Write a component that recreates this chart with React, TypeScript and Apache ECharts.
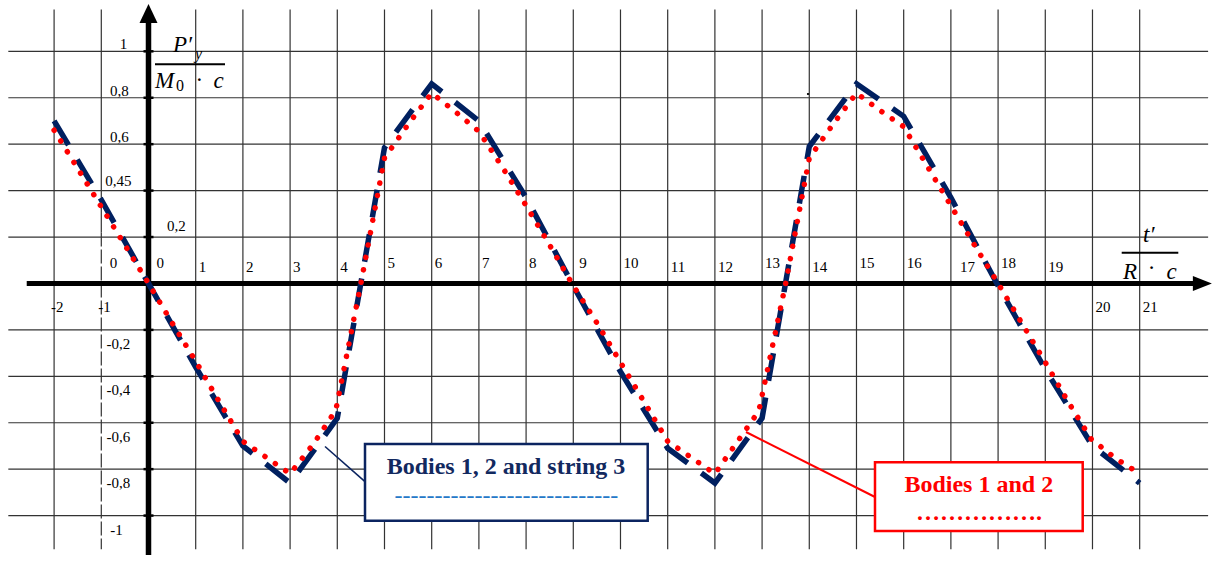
import React, { useEffect, useRef } from "react";
import * as echarts from "echarts";

// ---- data ----
const navyX = [-2, -1, 0, 1, 2, 3, 4, 5, 6, 7, 8, 9, 10, 11, 12, 13, 14, 15, 16, 17, 18, 19, 20, 21];
const navyY = [0.70, 0.36, 0, -0.36, -0.70, -0.86, -0.58, 0.585, 0.86, 0.70, 0.37, -0.01, -0.38, -0.71, -0.86, -0.58, 0.59, 0.86, 0.72, 0.37, -0.01, -0.37, -0.70, -0.86];

const redX = [-2, -1, 0, 0.5, 1, 1.5, 2, 2.5, 3, 3.5, 3.97, 4.5, 5, 5.5, 6, 6.5, 7, 7.5, 8, 8.5, 9, 9.5, 10, 10.5, 11, 11.5, 12, 12.5, 12.93, 13.5, 14, 14.5, 15, 15.5, 16, 16.5, 17, 17.5, 18, 18.5, 19, 19.5, 19.97, 20.5, 20.85];
const redY = [0.66, 0.33, 0, -0.17, -0.335, -0.51, -0.68, -0.75, -0.82, -0.69, -0.545, 0.0, 0.54, 0.685, 0.82, 0.74, 0.655, 0.50, 0.335, 0.165, -0.01, -0.17, -0.34, -0.51, -0.68, -0.75, -0.82, -0.675, -0.55, 0.0, 0.54, 0.685, 0.82, 0.745, 0.675, 0.505, 0.335, 0.165, 0.0, -0.17, -0.34, -0.515, -0.67, -0.755, -0.80];

const xGridValues = [-2, -1, 0, 1, 2, 3, 4, 5, 6, 7, 8, 9, 10, 11, 12, 13, 14, 15, 16, 17, 18, 19, 20, 21];
const yGridValues = [1, 0.8, 0.6, 0.4, 0.2, -0.2, -0.4, -0.6, -0.8, -1];

const xTickValues = [-2, -1, 0, 1, 2, 3, 4, 5, 6, 7, 8, 9, 10, 11, 12, 13, 14, 15, 16, 17, 18, 19, 20, 21];
const xTickLabels = ["-2", "-1", "0", "1", "2", "3", "4", "5", "6", "7", "8", "9", "10", "11", "12", "13", "14", "15", "16", "17", "18", "19", "20", "21"];

const yTickValues = [1, 0.8, 0.6, 0.4, 0.2, 0, -0.2, -0.4, -0.6, -0.8, -1];
const yTickLabels = ["1", "0,8", "0,6", "0,45", "0,2", "0", "-0,2", "-0,4", "-0,6", "-0,8", "-1"];

const seriesNames = ["Bodies 1, 2 and string 3", "Bodies 1 and 2"];

const NAVY = "#0b2460";
const RED = "#ff0000";
const SERIF = '"Liberation Serif", "Times New Roman", serif';

function txt(x: number, y: number, text: string, font: string, fill: string, align: string) {
  return {
    type: "text",
    x,
    y,
    style: {
      text,
      font,
      fill,
      align,
      verticalAlign: "middle",
      textAlign: align,
      textVerticalAlign: "middle",
    },
  };
}

export default function App() {
  const ref = useRef<HTMLDivElement>(null);

  useEffect(() => {
    if (!ref.current) return;
    const chart = echarts.init(ref.current, null, { renderer: "svg" });

    const gridV = {
      type: "custom",
      coordinateSystem: "cartesian2d",
      clip: false,
      silent: true,
      z: 1,
      data: xGridValues.map((v) => [v, 0]),
      renderItem: (params: any, api: any) => {
        const x = api.value(0);
        const p1 = api.coord([x, 1.18]);
        const p2 = api.coord([x, -1.145]);
        if (x === -1) {
          const pm = api.coord([x, 0.22]);
          return {
            type: "group",
            children: [
              { type: "line", shape: { x1: p1[0], y1: p1[1], x2: pm[0], y2: pm[1] }, style: { stroke: "#333", lineWidth: 1.2 } },
              { type: "line", shape: { x1: pm[0], y1: pm[1], x2: p2[0], y2: p2[1] }, style: { stroke: "#333", lineWidth: 1.2, lineDash: [14, 3] } },
            ],
          };
        }
        return {
          type: "line",
          shape: { x1: p1[0], y1: p1[1], x2: p2[0], y2: p2[1] },
          style: { stroke: "#333", lineWidth: 1.2 },
        };
      },
    };

    const gridH = {
      type: "custom",
      coordinateSystem: "cartesian2d",
      clip: false,
      silent: true,
      z: 1,
      data: yGridValues.map((v) => [0, v]),
      renderItem: (params: any, api: any) => {
        const y = api.value(1);
        const p1 = api.coord([-2.97, y]);
        const p2 = api.coord([22.45, y]);
        return {
          type: "line",
          shape: { x1: p1[0], y1: p1[1], x2: p2[0], y2: p2[1] },
          style: { stroke: "#333", lineWidth: 1.2 },
        };
      },
    };

    const axes = {
      type: "custom",
      coordinateSystem: "cartesian2d",
      clip: false,
      silent: true,
      z: 5,
      data: [[0, 0]],
      renderItem: (params: any, api: any) => {
        const o = api.coord([0, 0]);
        const xs = api.coord([-2.58, 0]);
        const xe = api.coord([22.53, 0]);
        const yt = api.coord([0, 1.204]);
        const yb = api.coord([0, -1.17]);
        const ticks = yGridValues.map((v) => {
          const p = api.coord([0, v]);
          return { type: "line", shape: { x1: p[0] - 5, y1: p[1], x2: p[0] + 5, y2: p[1] }, style: { stroke: "#000", lineWidth: 2.5 } };
        });
        return {
          type: "group",
          children: [
            { type: "line", shape: { x1: xs[0], y1: o[1], x2: xe[0] - 15, y2: o[1] }, style: { stroke: "#000", lineWidth: 5 } },
            { type: "polygon", shape: { points: [[xe[0] - 19, o[1] - 7.5], [xe[0], o[1]], [xe[0] - 19, o[1] + 7.5]] }, style: { fill: "#000" } },
            { type: "line", shape: { x1: o[0], y1: yb[1], x2: o[0], y2: yt[1] + 15 }, style: { stroke: "#000", lineWidth: 5.5 } },
            { type: "polygon", shape: { points: [[o[0] - 9, yt[1] + 19], [o[0], yt[1]], [o[0] + 9, yt[1] + 19]] }, style: { fill: "#000" } },
            ...ticks,
          ],
        };
      },
    };

    const xLabels = {
      type: "custom",
      coordinateSystem: "cartesian2d",
      clip: false,
      silent: true,
      z: 6,
      data: xTickValues.map((v, i) => [v, 0, i]),
      renderItem: (params: any, api: any) => {
        const v = api.value(0);
        const i = api.value(2);
        const p = api.coord([v, 0]);
        let dx = 3;
        if (v === 0) dx = 8;
        if (v === 9) dx = 6;
        if (v === 17) dx = 9;
        if (v < 0) dx = -3;
        let dy = -20;
        if ([1, 2, 3, 4, 11, 12, 14, 17, 19].indexOf(v) >= 0) dy = -16;
        if (v < 0 || v >= 20) dy = 23.5;
        return txt(p[0] + dx, p[1] + dy, xTickLabels[i], "15px " + SERIF, "#000", "left");
      },
    };

    const yLabels = {
      type: "custom",
      coordinateSystem: "cartesian2d",
      clip: false,
      silent: true,
      z: 6,
      data: yTickValues.map((v, i) => [0, v, i]),
      renderItem: (params: any, api: any) => {
        const v = api.value(1);
        const i = api.value(2);
        const p = api.coord([0, v]);
        let dx = -29;
        let dy = -7;
        if (v === 1) dx = -25;
        if (v === 0.4) { dx = -30; dy = -10; }
        if (v === 0.2) { dx = 28; dy = -11; }
        if (v === 0) { dx = -35; dy = -20; }
        if (v < 0) { dx = -30; dy = 14; }
        if (v === -1) dx = -32;
        return txt(p[0] + dx, p[1] + dy, yTickLabels[i], "15px " + SERIF, "#000", "center");
      },
    };

    const option: any = {
      animation: false,
      backgroundColor: "#ffffff",
      grid: { left: 6.9, top: 4.9, width: 1208.3, height: 565.2, containLabel: false },
      xAxis: { type: "value", min: -3, max: 22.6, show: false },
      yAxis: { type: "value", min: -1.2, max: 1.2, show: false },
      series: [
        gridV,
        gridH,
        axes,
        xLabels,
        yLabels,
        {
          name: seriesNames[0],
          type: "line",
          z: 7,
          showSymbol: false,
          symbol: "none",
          clip: false,
          data: navyX.map((x, i) => [x, navyY[i]]),
          lineStyle: { color: "#002060", width: 5.5, type: [28, 17], cap: "butt", join: "miter" },
        },
        {
          name: seriesNames[1],
          type: "line",
          z: 8,
          showSymbol: false,
          symbol: "none",
          clip: false,
          data: redX.map((x, i) => [x, redY[i]]),
          lineStyle: { color: RED, width: 5.5, type: [0.1, 12.5], cap: "round", join: "round" },
        },
      ],
      graphic: {
        elements: [
          // y-axis title  P'y / (M0 · c)
          { ...txt(173, 44, "P′", "italic 23px " + SERIF, "#000", "left"), z: 50 },
          { ...txt(195, 53, "y", "italic 16px " + SERIF, "#000", "left"), z: 50 },
          { type: "line", z: 50, shape: { x1: 155, y1: 64.3, x2: 225, y2: 64.3 }, style: { stroke: "#000", lineWidth: 2 } },
          { ...txt(155, 80, "M", "italic 23px " + SERIF, "#000", "left"), z: 50 },
          { ...txt(176, 85, "0", "16px " + SERIF, "#000", "left"), z: 50 },
          { ...txt(199.3, 79, "·", "23px " + SERIF, "#000", "center"), z: 50 },
          { ...txt(213.5, 80, "c", "italic 23px " + SERIF, "#000", "left"), z: 50 },
          // x-axis title  t' / (R · c)
          { ...txt(1143, 234, "t′", "italic 23px " + SERIF, "#000", "left"), z: 50 },
          { type: "line", z: 50, shape: { x1: 1121.7, y1: 252.7, x2: 1178.3, y2: 252.7 }, style: { stroke: "#000", lineWidth: 2 } },
          { ...txt(1123, 271, "R", "italic 23px " + SERIF, "#000", "left"), z: 50 },
          { ...txt(1151.7, 267, "·", "23px " + SERIF, "#000", "center"), z: 50 },
          { ...txt(1166.5, 271, "c", "italic 23px " + SERIF, "#000", "left"), z: 50 },
          // stray dot
          { type: "circle", z: 50, shape: { cx: 808, cy: 94, r: 1.1 }, style: { fill: "#000" } },
          // leader lines
          { type: "line", z: 60, shape: { x1: 325, y1: 446.5, x2: 365, y2: 481.7 }, style: { stroke: NAVY, lineWidth: 1.6 } },
          { type: "line", z: 60, shape: { x1: 746, y1: 432, x2: 875, y2: 497 }, style: { stroke: RED, lineWidth: 2 } },
          // legend box 1
          { type: "rect", z: 61, shape: { x: 365, y: 444, width: 282.7, height: 76.7 }, style: { fill: "#fff", stroke: NAVY, lineWidth: 2.5 } },
          { ...txt(506, 466, seriesNames[0], "bold 24px " + SERIF, "#12295f", "center"), z: 62 },
          { ...txt(506.4, 494.8, "----------------------------", "24px " + SERIF, "#2478c8", "center"), z: 62 },
          // legend box 2
          { type: "rect", z: 61, shape: { x: 875, y: 462.3, width: 207.7, height: 68.7 }, style: { fill: "#fff", stroke: RED, lineWidth: 2.5 } },
          { ...txt(978.8, 483.5, seriesNames[1], "bold 24px " + SERIF, RED, "center"), z: 62 },
          { ...txt(979, 511.8, "…………….", "bold 24px " + SERIF, RED, "center"), z: 62 },
        ],
      },
    };

    chart.setOption(option);
    return () => chart.dispose();
  }, []);

  return (
    <div
      ref={ref}
      style={{ position: "fixed", left: 0, top: 0, width: 1218, height: 562, background: "#fff" }}
    />
  );
}
